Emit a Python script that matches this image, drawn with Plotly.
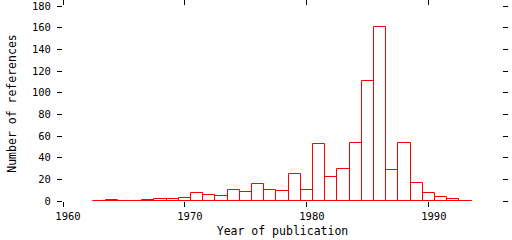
import plotly.graph_objects as go

years = list(range(1963, 1994))
counts = [0, 1, 0, 0, 1, 2, 2, 3, 7, 6, 5, 10, 8, 16, 10, 9, 25, 10,
          53, 22, 30, 54, 111, 161, 29, 54, 17, 7, 4, 2, 0]
x_ticks = [1960, 1970, 1980, 1990]
y_ticks = list(range(0, 181, 20))

fig = go.Figure()
fig.add_trace(go.Bar(
    x=years, y=counts, width=1,
    marker=dict(color="rgba(0,0,0,0)", line=dict(color="#ff0000", width=1)),
    showlegend=False,
))
fig.add_trace(go.Scatter(
    x=[years[0] - 0.5, years[-1] + 0.5], y=[0, 0], mode="lines",
    line=dict(color="#ff0000", width=1), showlegend=False, hoverinfo="skip",
))

font = dict(family="DejaVu Sans Mono", size=11.5, color="black")
tfont = dict(family="DejaVu Sans Mono", size=10.5, color="black")
fig.update_layout(
    width=512, height=240,
    margin=dict(l=63, r=10, t=6, b=39),
    paper_bgcolor="white", plot_bgcolor="white",
    font=font, bargap=0,
)
fig.update_xaxes(
    range=[1960, 1996], tickvals=x_ticks, ticktext=[str(v) for v in x_ticks],
    ticks="outside", ticklen=5, tickwidth=1, tickcolor="black",
    mirror="ticks", showline=False, showgrid=False, zeroline=False,
    title=dict(text="Year of publication", font=font, standoff=6),
    tickfont=tfont, ticklabelshift=5, automargin=False,
)
fig.update_yaxes(
    range=[0, 180.05], tickvals=y_ticks, ticktext=[str(v) for v in y_ticks],
    ticks="outside", ticklen=5, tickwidth=1, tickcolor="black",
    mirror="ticks", showline=False, showgrid=False, zeroline=False,
    title=dict(text="Number of references", font=font, standoff=12),
    tickfont=tfont, ticklabelstandoff=4, ticklabeloverflow="allow",
    automargin=False,
)
fig.write_html("out.html")
